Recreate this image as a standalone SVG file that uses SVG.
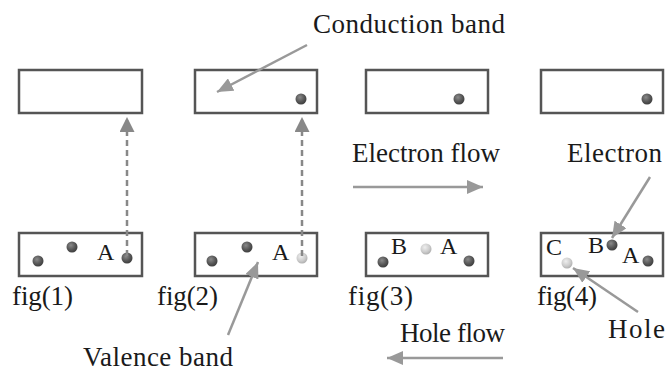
<svg xmlns="http://www.w3.org/2000/svg" width="667" height="371" viewBox="0 0 667 371">
<style>
.box{fill:#fff;stroke:#555;stroke-width:2.5}
.t{font-family:"Liberation Serif","DejaVu Serif",serif;font-size:27px;fill:#1a1a1a}
.l{font-family:"Liberation Serif","DejaVu Serif",serif;font-size:24px;fill:#1a1a1a}
.arr{stroke:#999;stroke-width:2.5;fill:none}
.dash{stroke:#888;stroke-width:2.5;fill:none;stroke-dasharray:6 4}
</style>
<defs>
<radialGradient id="dk" cx="0.4" cy="0.35" r="0.7">
<stop offset="0" stop-color="#8a8a8a"/>
<stop offset="0.6" stop-color="#555"/>
<stop offset="1" stop-color="#3a3a3a"/>
</radialGradient>
<radialGradient id="lt" cx="0.4" cy="0.35" r="0.7">
<stop offset="0" stop-color="#eee"/>
<stop offset="0.6" stop-color="#ccc"/>
<stop offset="1" stop-color="#aaa"/>
</radialGradient>
<marker id="ah" viewBox="0 0 16 14" refX="16" refY="7" markerWidth="16" markerHeight="14" markerUnits="userSpaceOnUse" orient="auto">
<path d="M0,0 L16,7 L0,14 Z" fill="#999"/>
</marker>
<marker id="ahd" viewBox="0 0 15 15" refX="15" refY="7.5" markerWidth="15" markerHeight="15" markerUnits="userSpaceOnUse" orient="auto">
<path d="M0,0 L15,7.5 L0,15 Z" fill="#888"/>
</marker>
</defs>

<g id="fig1-conduction"><rect class="box" x="19" y="70" width="123" height="43"/></g>
<g id="fig2-conduction"><rect class="box" x="195" y="70" width="122" height="43"/><circle cx="301" cy="99" r="5.5" fill="url(#dk)"/></g>
<g id="fig3-conduction"><rect class="box" x="366" y="70" width="122" height="43"/><circle cx="459" cy="99" r="5.5" fill="url(#dk)"/></g>
<g id="fig4-conduction"><rect class="box" x="541" y="70" width="122" height="43"/><circle cx="647" cy="99" r="5.5" fill="url(#dk)"/></g>

<g id="fig1-valence"><rect class="box" x="19" y="233" width="123" height="43"/>
<circle cx="38" cy="261" r="5.5" fill="url(#dk)"/>
<circle cx="72" cy="247" r="5.5" fill="url(#dk)"/>
<circle cx="127" cy="258" r="5.5" fill="url(#dk)"/>
<text class="l" x="97" y="260">A</text></g>

<g id="fig2-valence"><rect class="box" x="195" y="233" width="122" height="43"/>
<circle cx="212" cy="261" r="5.5" fill="url(#dk)"/>
<circle cx="247" cy="247" r="5.5" fill="url(#dk)"/>
<circle cx="302" cy="258" r="5.5" fill="url(#lt)"/>
<text class="l" x="272" y="260">A</text></g>

<g id="fig3-valence"><rect class="box" x="366" y="233" width="122" height="43"/>
<circle cx="383" cy="262" r="5.5" fill="url(#dk)"/>
<circle cx="426" cy="249" r="5.5" fill="url(#lt)"/>
<circle cx="469" cy="261" r="5.5" fill="url(#dk)"/>
<text class="l" x="391" y="254">B</text>
<text class="l" x="440" y="254">A</text></g>

<g id="fig4-valence"><rect class="box" x="541" y="233" width="122" height="43"/>
<circle cx="612" cy="245" r="5.5" fill="url(#dk)"/>
<circle cx="648" cy="261" r="5.5" fill="url(#dk)"/>
<circle cx="567" cy="263" r="5.5" fill="url(#lt)"/>
<text class="l" x="546" y="255">C</text>
<text class="l" x="588" y="253">B</text>
<text class="l" x="622" y="263">A</text></g>

<g id="labels">
<text class="t" x="313" y="33" textLength="192">Conduction band</text>
<text class="t" x="352" y="162" textLength="148">Electron flow</text>
<text class="t" x="567" y="162" textLength="95">Electron</text>
<text class="t" x="12" y="305" textLength="61">fig(1)</text>
<text class="t" x="157" y="305" textLength="61">fig(2)</text>
<text class="t" x="348" y="305" textLength="65">fig(3)</text>
<text class="t" x="537" y="305" textLength="60">fig(4)</text>
<text class="t" x="400" y="342" textLength="105">Hole flow</text>
<text class="t" x="608" y="338" textLength="57">Hole</text>
<text class="t" x="83" y="366" textLength="150">Valence band</text>
</g>

<g id="connectors">
<line class="dash" x1="127" y1="256" x2="127" y2="117" marker-end="url(#ahd)"/>
<line class="dash" x1="302" y1="256" x2="302" y2="117" marker-end="url(#ahd)"/>
<line class="arr" x1="307" y1="45" x2="217" y2="92" marker-end="url(#ah)"/>
<line class="arr" x1="353" y1="187" x2="483" y2="187" marker-end="url(#ah)"/>
<line class="arr" x1="503" y1="358" x2="387" y2="358" marker-end="url(#ah)"/>
<line class="arr" x1="650" y1="177" x2="612" y2="238" marker-end="url(#ah)"/>
<line class="arr" x1="638" y1="312" x2="573" y2="268" marker-end="url(#ah)"/>
<line class="arr" x1="228" y1="335" x2="258" y2="262" marker-end="url(#ah)"/>
</g>
</svg>
